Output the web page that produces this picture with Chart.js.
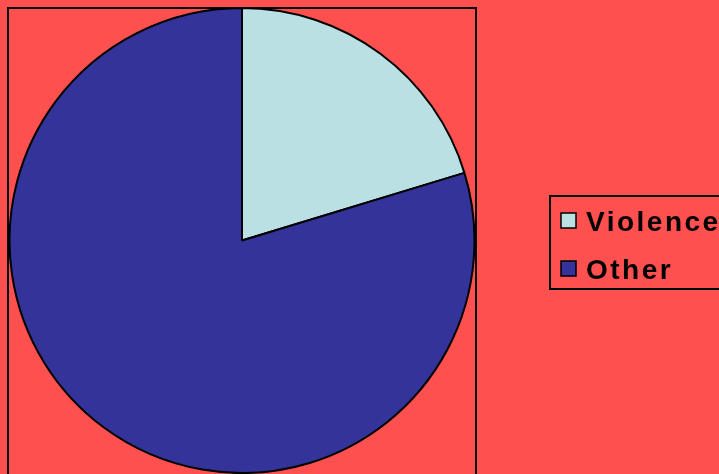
<!DOCTYPE html>
<html>
<head>
<meta charset="utf-8">
<script src="https://cdn.jsdelivr.net/npm/chart.js@4"></script>
<style>
  html,body{margin:0;padding:0;background:#FF5050;}
  #wrap{position:relative;width:719px;height:474px;}
</style>
</head>
<body>
<div id="wrap"><canvas id="myChart" width="719" height="474"></canvas></div>
<script>
const labels = ['Violence', 'Other'];
const values = [20.3, 79.7];
const colors = ['#BBE0E3', '#333399'];

// background, plot frame and legend box are painted around the pie
const frame = {
  id: 'frame',
  beforeDraw(chart) {
    const c = chart.ctx;
    c.save();
    c.fillStyle = '#FF5050';
    c.fillRect(0, 0, chart.width, chart.height);
    c.strokeStyle = '#000';
    c.lineWidth = 2;
    c.strokeRect(8, 8, 468, 480);
    c.restore();
  },
  afterDraw(chart) {
    const c = chart.ctx;
    const ds = chart.data.datasets[0];
    c.save();
    c.strokeStyle = '#000';
    c.lineWidth = 2;
    c.strokeRect(550, 196, 200, 93);
    c.font = 'bold 28px "Liberation Sans", Arial, sans-serif';
    c.letterSpacing = '2.5px';
    c.textBaseline = 'alphabetic';
    chart.data.labels.forEach((lab, i) => {
      const y = 213 + i * 48;
      c.fillStyle = ds.backgroundColor[i];
      c.fillRect(561, y, 15, 15);
      c.lineWidth = 1.5;
      c.strokeRect(561, y, 15, 15);
      c.fillStyle = '#000';
      c.fillText(lab, 586, y + 18);
    });
    c.restore();
  }
};

const ctx = document.getElementById('myChart').getContext('2d');
new Chart(ctx, {
  type: 'pie',
  data: {
    labels: labels,
    datasets: [{
      data: values,
      backgroundColor: colors,
      borderColor: '#000',
      borderWidth: 2,
      borderAlign: 'center'
    }]
  },
  options: {
    responsive: false,
    animation: false,
    layout: { padding: { left: 8.5, right: 243.5, top: 7, bottom: 0 } },
    plugins: {
      legend: { display: false },
      tooltip: { enabled: false }
    }
  },
  plugins: [frame]
});
</script>
</body>
</html>
